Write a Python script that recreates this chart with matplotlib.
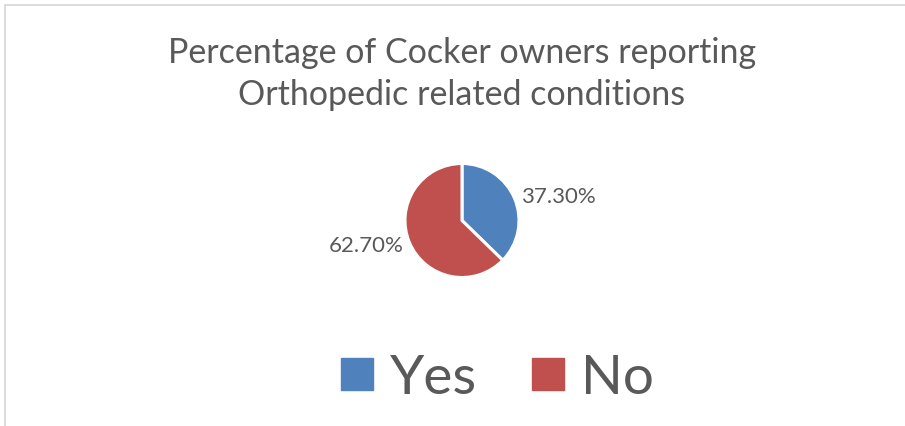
import matplotlib
matplotlib.use("Agg")
import matplotlib.pyplot as plt
from matplotlib.lines import Line2D
from matplotlib.patches import Rectangle

categories = ["Yes", "No"]
values = [37.30, 62.70]
colors = ["#4F81BD", "#C0504D"]
title = "Percentage of Cocker owners reporting\nOrthopedic related conditions"
text_color = "#595959"

plt.rcParams['font.family'] = ['Lato', 'DejaVu Sans']

W, H = 905, 427
fig = plt.figure(figsize=(W / 100, H / 100), dpi=100)
fig.patch.set_facecolor("white")

# chart border (top and left visible)
fig.add_artist(Rectangle((4.5 / W, -0.2), 1.5, 1.2 - 5.5 / H,
                         transform=fig.transFigure, fill=False,
                         edgecolor="#D9D9D9", linewidth=1.3))

# title
fig.text(462 / W, 1 - 74 / H, title, ha="center", va="center",
         fontsize=24.5, color=text_color, linespacing=1.42)

# pie
cx, cy, r = 462, 221.5, 57
ax = fig.add_axes([(cx - r) / W, 1 - (cy + r) / H, 2 * r / W, 2 * r / H])
wedges, texts, autotexts = ax.pie(
    values, colors=colors, startangle=90, counterclock=False,
    autopct=lambda p: f"{p:.2f}%", pctdistance=1.12,
    wedgeprops=dict(edgecolor="white", linewidth=2.2),
    textprops=dict(fontsize=16, color=text_color))
for t in autotexts:
    x, y = t.get_position()
    t.set_ha("left" if x > 0 else "right")
    t.set_va("center")
ax.set_xlim(-1, 1)
ax.set_ylim(-1, 1)
ax.axis("off")

# legend
handles = [Line2D([], [], marker="s", linestyle="none", markersize=22.5,
                  markerfacecolor=c, markeredgecolor=c) for c in colors]
leg = fig.legend(handles, categories, loc="center",
                 bbox_to_anchor=(497 / W, 1 - 379 / H), ncol=2, frameon=False,
                 fontsize=39.5, handlelength=0.6, handletextpad=0.3,
                 columnspacing=1.0, labelcolor=text_color)

fig.savefig("out.png", dpi=100, facecolor="white")
